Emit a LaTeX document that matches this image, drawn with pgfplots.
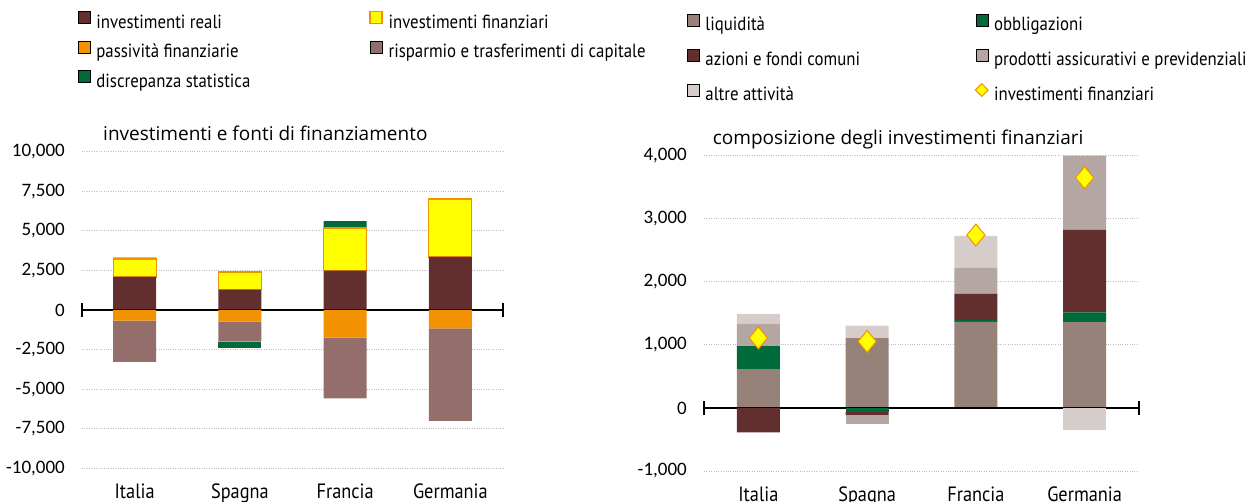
\documentclass[border=0pt]{standalone}
\usepackage{fontspec}
\setmainfont{PT Sans}[FakeStretch=0.885]
\newfontfamily\titlefont{Open Sans}
\newfontfamily\tickfont{Carlito}
\usepackage{pgfplots}
\pgfplotsset{compat=1.18}
\definecolor{reali}{RGB}{99,46,46}
\definecolor{finy}{RGB}{255,255,0}
\definecolor{orng}{RGB}{243,146,0}
\definecolor{risp}{RGB}{148,110,107}
\definecolor{discr}{RGB}{0,106,59}
\definecolor{liq}{RGB}{150,130,121}
\definecolor{assic}{RGB}{180,167,163}
\definecolor{altre}{RGB}{214,205,202}
\definecolor{gridc}{RGB}{190,190,190}
\tikzset{zeroline/.style={black, line width=1.6bp}}
\pgfplotsset{
  sqleg/.style={legend image code/.code={\draw[##1] (0bp,0bp) rectangle (12bp,12bp);}},
  dmleg/.style={legend image code/.code={\draw[##1, mark size=6.5bp] plot coordinates {(6bp,6bp)};}},
  leftgeom/.style={scale only axis, anchor=south west, at={(82bp,33.7bp)}, width=421bp, height=316.6bp,
    xmin=-0.5, xmax=3.5, ymin=-10000, ymax=10000, clip=false},
  rightgeom/.style={scale only axis, anchor=south west, at={(704bp,31bp)}, width=435bp, height=315.3bp,
    xmin=-0.5, xmax=3.5, ymin=-1000, ymax=4000, clip=false},
  negstack/.style={hide axis, ybar stacked, bar width=43bp},
  common/.style={
    ybar stacked, bar width=43bp,
    xtick={0,1,2,3},
    xticklabels={Italia,Spagna,Francia,Germania},
    axis line style={draw=none}, major tick length=0pt,
    ymajorgrids, grid style={dotted, line width=0.9bp, color=gridc},
    scaled y ticks=false,
    /pgf/number format/assume math mode=true,
    /pgf/number format/1000 sep={,},
    yticklabel style={font=\tickfont\fontsize{19bp}{19bp}\selectfont, anchor=east, inner sep=0pt, xshift=-17bp},
    xticklabel style={font=\fontsize{20.7bp}{20.7bp}\selectfont, anchor=base, inner sep=0pt, yshift=-30bp},
    legend style={draw=none, fill=none, inner sep=0pt, outer sep=0pt,
      font=\fontsize{19bp}{22bp}\selectfont,
      nodes={inner sep=0pt, text height=14bp, text depth=4bp},
      anchor=north west},
    legend columns=2, legend cell align=left,
  },
}
\begin{document}
\begin{tikzpicture}
\useasboundingbox (0,0) rectangle (1251bp,502bp);
% ---------------- left axis: positives ----------------
\begin{axis}[leftgeom, common,
  ytick={-10000,-7500,...,10000},
  legend style={at={(axis description cs:-0.0095,1.4444)}, row sep=8bp},
  title={\titlefont investimenti e fonti di finanziamento},
  title style={at={(axis description cs:0.0499,1.0158)}, anchor=base west, inner sep=0pt, font=\fontsize{19bp}{19bp}\selectfont},
]
\addlegendimage{sqleg, fill=reali, draw=none}
\addlegendentry{\makebox[279bp][l]{\hspace{6bp}investimenti reali}}
\addlegendimage{sqleg, fill=finy, draw=orng, line width=1.2bp}
\addlegendentry{\hspace{6bp}investimenti finanziari}
\addlegendimage{sqleg, fill=orng, draw=none}
\addlegendentry{\makebox[279bp][l]{\hspace{6bp}passività finanziarie}}
\addlegendimage{sqleg, fill=risp, draw=none}
\addlegendentry{\hspace{6bp}risparmio e trasferimenti di capitale}
\addlegendimage{sqleg, fill=discr, draw=none}
\addlegendentry{\makebox[279bp][l]{\hspace{6bp}discrepanza statistica}}
\addplot[forget plot, fill=reali, draw=none] coordinates {(0,2085) (1,1283) (2,2483) (3,3348)};
\addplot[forget plot, fill=finy, draw=orng, line width=1.2bp] coordinates {(0,1137) (1,1117) (2,2697) (3,3664)};
\addplot[forget plot, fill=discr, draw=none] coordinates {(0,85) (1,0) (2,442) (3,0)};
\end{axis}
% ---------------- left axis: negatives ----------------
\begin{axis}[leftgeom, negstack]
\addplot[fill=orng, draw=none] coordinates {(0,-675) (1,-740) (2,-1750) (3,-1162)};
\addplot[fill=risp, draw=none] coordinates {(0,-2610) (1,-1260) (2,-3834) (3,-5850)};
\addplot[fill=discr, draw=none] coordinates {(0,0) (1,-425) (2,0) (3,0)};
\draw[zeroline] (axis cs:-0.5,0) -- (axis cs:3.5,0);
\draw[zeroline] ([yshift=-7bp]axis cs:-0.5,0) -- ([yshift=7bp]axis cs:-0.5,0);
\draw[zeroline] ([yshift=-7bp]axis cs:3.5,0) -- ([yshift=7bp]axis cs:3.5,0);
\end{axis}
% ---------------- right axis: positives ----------------
\begin{axis}[rightgeom, common,
  ytick={-1000,0,...,4000},
  legend style={at={(axis description cs:-0.039,1.4504)}, row sep=13.7bp},
  title={\titlefont composizione degli investimenti finanziari},
  title style={at={(axis description cs:0.02,1.018)}, anchor=base west, inner sep=0pt, font=\fontsize{19bp}{19bp}\selectfont},
]
\addlegendimage{sqleg, fill=liq, draw=none}
\addlegendentry{\makebox[276bp][l]{\hspace{6bp}liquidità}}
\addlegendimage{sqleg, fill=discr, draw=none}
\addlegendentry{\hspace{6bp}obbligazioni}
\addlegendimage{sqleg, fill=reali, draw=none}
\addlegendentry{\makebox[276bp][l]{\hspace{6bp}azioni e fondi comuni}}
\addlegendimage{sqleg, fill=assic, draw=none}
\addlegendentry{\hspace{6bp}prodotti assicurativi e previdenziali}
\addlegendimage{sqleg, fill=altre, draw=none}
\addlegendentry{\makebox[276bp][l]{\hspace{6bp}altre attività}}
\addlegendimage{dmleg, only marks, mark=diamond*, mark options={fill=finy, draw=orng, line width=1bp, xscale=1.3}}
\addlegendentry{\hspace{6bp}investimenti finanziari}
\addplot[forget plot, fill=liq, draw=none] coordinates {(0,614) (1,1106) (2,1365) (3,1360)};
\addplot[forget plot, fill=discr, draw=none] coordinates {(0,365) (1,0) (2,27) (3,154)};
\addplot[forget plot, fill=reali, draw=none] coordinates {(0,0) (1,0) (2,418) (3,1311)};
\addplot[forget plot, fill=assic, draw=none] coordinates {(0,360) (1,0) (2,412) (3,1175)};
\addplot[forget plot, fill=altre, draw=none] coordinates {(0,152) (1,200) (2,508) (3,0)};
\end{axis}
% ---------------- right axis: negatives ----------------
\begin{axis}[rightgeom, negstack]
\addplot[fill=discr, draw=none] coordinates {(0,0) (1,-60) (2,0) (3,0)};
\addplot[fill=reali, draw=none] coordinates {(0,-386) (1,-50) (2,0) (3,0)};
\addplot[fill=assic, draw=none] coordinates {(0,0) (1,-145) (2,0) (3,0)};
\addplot[fill=altre, draw=none] coordinates {(0,0) (1,0) (2,0) (3,-354)};
\draw[zeroline] (axis cs:-0.5,0) -- (axis cs:3.5,0);
\draw[zeroline] ([yshift=-7bp]axis cs:-0.5,0) -- ([yshift=7bp]axis cs:-0.5,0);
\draw[zeroline] ([yshift=-7bp]axis cs:3.5,0) -- ([yshift=7bp]axis cs:3.5,0);
\end{axis}
% ---------------- right axis: markers ----------------
\begin{axis}[rightgeom, hide axis]
\addplot[only marks, mark=diamond*, mark size=11bp, mark options={fill=finy, draw=orng, line width=1bp, xscale=1.1}] coordinates {(0,1111) (1,1054) (2,2741) (3,3651)};
\end{axis}
\end{tikzpicture}
\end{document}
